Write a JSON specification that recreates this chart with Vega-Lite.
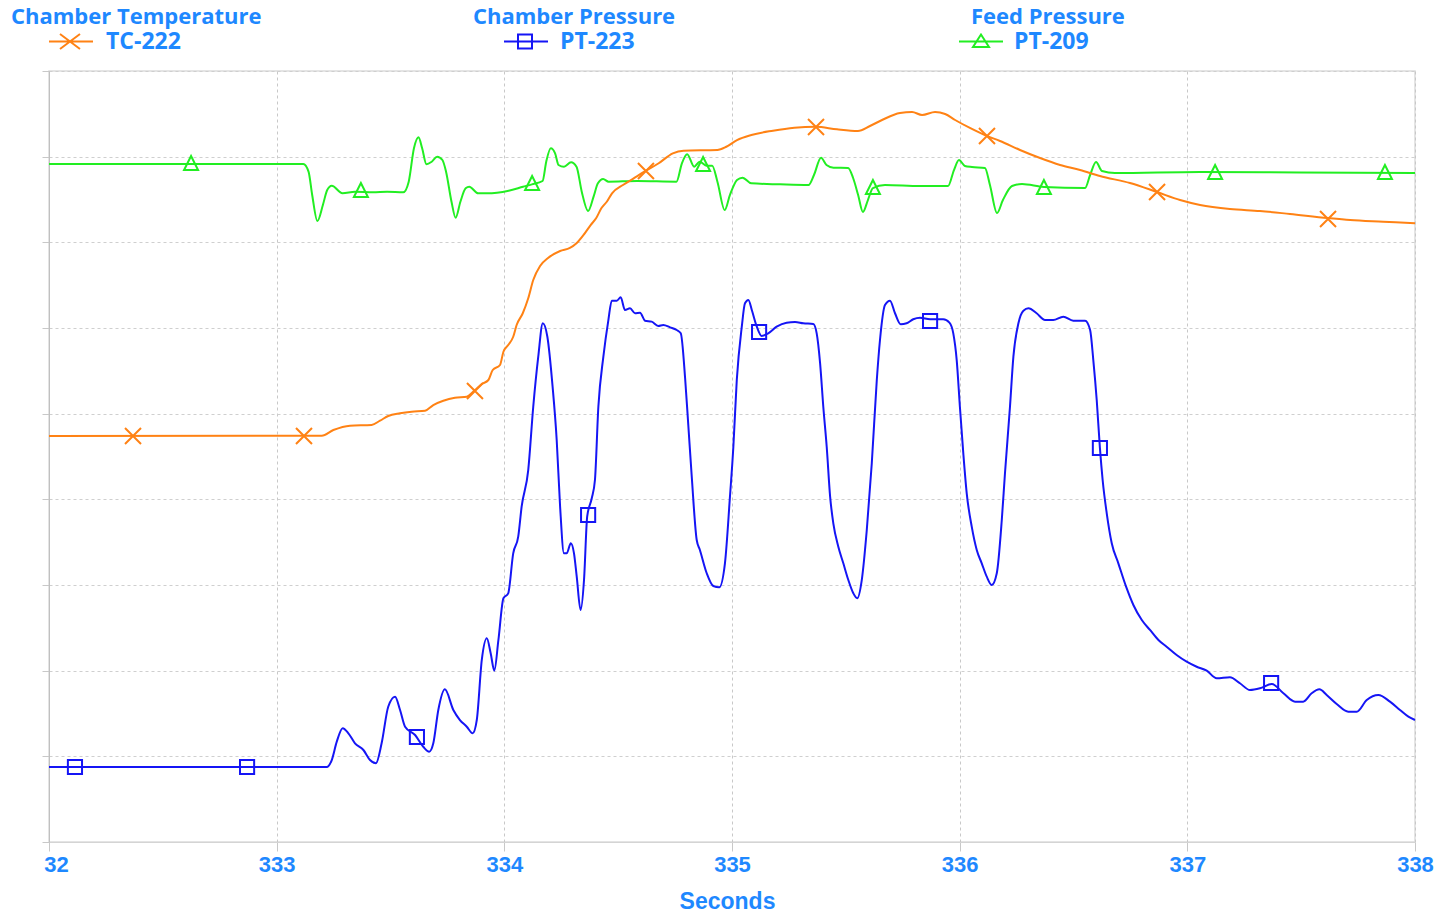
{
"$schema": "https://vega.github.io/schema/vega-lite/v6.json",
"width": 1366, "height": 771,
"autosize": {"type": "none"},
"padding": {"left": 49, "top": 71, "right": 28, "bottom": 70},
"background": "white",
"datasets": {
"lines": [
{"s":"PT-209","t":332.000,"v":7.914},{"s":"PT-209","t":333.117,"v":7.914},{"s":"PT-209","t":333.140,"v":7.825},{"s":"PT-209","t":333.156,"v":7.553},{"s":"PT-209","t":333.179,"v":7.249},{"s":"PT-209","t":333.203,"v":7.436},{"s":"PT-209","t":333.222,"v":7.611},{"s":"PT-209","t":333.242,"v":7.661},{"s":"PT-209","t":333.289,"v":7.572},{"s":"PT-209","t":333.344,"v":7.591},{"s":"PT-209","t":333.423,"v":7.584},{"s":"PT-209","t":333.485,"v":7.591},{"s":"PT-209","t":333.556,"v":7.584},{"s":"PT-209","t":333.580,"v":7.708},{"s":"PT-209","t":333.603,"v":8.098},{"s":"PT-209","t":333.623,"v":8.226},{"s":"PT-209","t":333.639,"v":8.098},{"s":"PT-209","t":333.658,"v":7.911},{"s":"PT-209","t":333.681,"v":7.941},{"s":"PT-209","t":333.705,"v":8.000},{"s":"PT-209","t":333.728,"v":7.961},{"s":"PT-209","t":333.744,"v":7.825},{"s":"PT-209","t":333.768,"v":7.474},{"s":"PT-209","t":333.786,"v":7.288},{"s":"PT-209","t":333.807,"v":7.474},{"s":"PT-209","t":333.830,"v":7.631},{"s":"PT-209","t":333.846,"v":7.649},{"s":"PT-209","t":333.885,"v":7.572},{"s":"PT-209","t":333.924,"v":7.572},{"s":"PT-209","t":334.019,"v":7.603},{"s":"PT-209","t":334.082,"v":7.649},{"s":"PT-209","t":334.121,"v":7.677},{"s":"PT-209","t":334.168,"v":7.716},{"s":"PT-209","t":334.184,"v":7.941},{"s":"PT-209","t":334.204,"v":8.098},{"s":"PT-209","t":334.223,"v":8.039},{"s":"PT-209","t":334.238,"v":7.903},{"s":"PT-209","t":334.262,"v":7.883},{"s":"PT-209","t":334.293,"v":7.934},{"s":"PT-209","t":334.317,"v":7.883},{"s":"PT-209","t":334.340,"v":7.591},{"s":"PT-209","t":334.368,"v":7.366},{"s":"PT-209","t":334.392,"v":7.533},{"s":"PT-209","t":334.411,"v":7.689},{"s":"PT-209","t":334.434,"v":7.739},{"s":"PT-209","t":334.458,"v":7.708},{"s":"PT-209","t":334.583,"v":7.716},{"s":"PT-209","t":334.756,"v":7.708},{"s":"PT-209","t":334.780,"v":7.923},{"s":"PT-209","t":334.803,"v":8.028},{"s":"PT-209","t":334.834,"v":7.883},{"s":"PT-209","t":334.858,"v":7.941},{"s":"PT-209","t":334.889,"v":7.895},{"s":"PT-209","t":334.913,"v":7.895},{"s":"PT-209","t":334.936,"v":7.708},{"s":"PT-209","t":334.968,"v":7.377},{"s":"PT-209","t":334.991,"v":7.553},{"s":"PT-209","t":335.022,"v":7.728},{"s":"PT-209","t":335.046,"v":7.755},{"s":"PT-209","t":335.085,"v":7.689},{"s":"PT-209","t":335.211,"v":7.677},{"s":"PT-209","t":335.336,"v":7.669},{"s":"PT-209","t":335.360,"v":7.786},{"s":"PT-209","t":335.391,"v":7.988},{"s":"PT-209","t":335.415,"v":7.903},{"s":"PT-209","t":335.446,"v":7.871},{"s":"PT-209","t":335.510,"v":7.868},{"s":"PT-209","t":335.532,"v":7.751},{"s":"PT-209","t":335.554,"v":7.553},{"s":"PT-209","t":335.575,"v":7.354},{"s":"PT-209","t":335.597,"v":7.494},{"s":"PT-209","t":335.619,"v":7.634},{"s":"PT-209","t":335.672,"v":7.669},{"s":"PT-209","t":335.826,"v":7.657},{"s":"PT-209","t":335.949,"v":7.657},{"s":"PT-209","t":335.975,"v":7.844},{"s":"PT-209","t":335.997,"v":7.961},{"s":"PT-209","t":336.023,"v":7.891},{"s":"PT-209","t":336.054,"v":7.879},{"s":"PT-209","t":336.111,"v":7.868},{"s":"PT-209","t":336.133,"v":7.669},{"s":"PT-209","t":336.164,"v":7.342},{"s":"PT-209","t":336.190,"v":7.494},{"s":"PT-209","t":336.230,"v":7.657},{"s":"PT-209","t":336.274,"v":7.681},{"s":"PT-209","t":336.370,"v":7.646},{"s":"PT-209","t":336.551,"v":7.634},{"s":"PT-209","t":336.573,"v":7.786},{"s":"PT-209","t":336.599,"v":7.938},{"s":"PT-209","t":336.625,"v":7.833},{"s":"PT-209","t":336.682,"v":7.809},{"s":"PT-209","t":337.056,"v":7.821},{"s":"PT-209","t":337.495,"v":7.815},{"s":"PT-209","t":338.000,"v":7.809},
{"s":"TC-222","t":332.000,"v":4.739},{"s":"TC-222","t":333.198,"v":4.743},{"s":"TC-222","t":333.249,"v":4.809},{"s":"TC-222","t":333.322,"v":4.860},{"s":"TC-222","t":333.417,"v":4.868},{"s":"TC-222","t":333.454,"v":4.918},{"s":"TC-222","t":333.490,"v":4.973},{"s":"TC-222","t":333.542,"v":5.004},{"s":"TC-222","t":333.593,"v":5.023},{"s":"TC-222","t":333.652,"v":5.035},{"s":"TC-222","t":333.688,"v":5.101},{"s":"TC-222","t":333.732,"v":5.151},{"s":"TC-222","t":333.783,"v":5.186},{"s":"TC-222","t":333.835,"v":5.198},{"s":"TC-222","t":333.871,"v":5.276},{"s":"TC-222","t":333.901,"v":5.346},{"s":"TC-222","t":333.930,"v":5.393},{"s":"TC-222","t":333.949,"v":5.510},{"s":"TC-222","t":333.981,"v":5.568},{"s":"TC-222","t":333.996,"v":5.723},{"s":"TC-222","t":334.017,"v":5.801},{"s":"TC-222","t":334.039,"v":5.898},{"s":"TC-222","t":334.054,"v":6.035},{"s":"TC-222","t":334.081,"v":6.172},{"s":"TC-222","t":334.105,"v":6.347},{"s":"TC-222","t":334.127,"v":6.560},{"s":"TC-222","t":334.157,"v":6.724},{"s":"TC-222","t":334.192,"v":6.817},{"s":"TC-222","t":334.245,"v":6.899},{"s":"TC-222","t":334.288,"v":6.934},{"s":"TC-222","t":334.317,"v":6.989},{"s":"TC-222","t":334.348,"v":7.086},{"s":"TC-222","t":334.379,"v":7.202},{"s":"TC-222","t":334.403,"v":7.281},{"s":"TC-222","t":334.426,"v":7.397},{"s":"TC-222","t":334.450,"v":7.474},{"s":"TC-222","t":334.473,"v":7.572},{"s":"TC-222","t":334.521,"v":7.669},{"s":"TC-222","t":334.568,"v":7.747},{"s":"TC-222","t":334.615,"v":7.825},{"s":"TC-222","t":334.678,"v":7.923},{"s":"TC-222","t":334.740,"v":8.039},{"s":"TC-222","t":334.787,"v":8.070},{"s":"TC-222","t":334.936,"v":8.078},{"s":"TC-222","t":334.975,"v":8.116},{"s":"TC-222","t":335.022,"v":8.194},{"s":"TC-222","t":335.085,"v":8.253},{"s":"TC-222","t":335.180,"v":8.303},{"s":"TC-222","t":335.274,"v":8.338},{"s":"TC-222","t":335.368,"v":8.350},{"s":"TC-222","t":335.461,"v":8.319},{"s":"TC-222","t":335.553,"v":8.300},{"s":"TC-222","t":335.606,"v":8.358},{"s":"TC-222","t":335.659,"v":8.428},{"s":"TC-222","t":335.738,"v":8.510},{"s":"TC-222","t":335.791,"v":8.521},{"s":"TC-222","t":335.835,"v":8.486},{"s":"TC-222","t":335.892,"v":8.521},{"s":"TC-222","t":335.936,"v":8.498},{"s":"TC-222","t":335.980,"v":8.428},{"s":"TC-222","t":336.045,"v":8.335},{"s":"TC-222","t":336.120,"v":8.241},{"s":"TC-222","t":336.177,"v":8.183},{"s":"TC-222","t":336.265,"v":8.078},{"s":"TC-222","t":336.353,"v":7.984},{"s":"TC-222","t":336.441,"v":7.903},{"s":"TC-222","t":336.529,"v":7.844},{"s":"TC-222","t":336.616,"v":7.774},{"s":"TC-222","t":336.748,"v":7.692},{"s":"TC-222","t":336.867,"v":7.587},{"s":"TC-222","t":336.968,"v":7.494},{"s":"TC-222","t":337.056,"v":7.436},{"s":"TC-222","t":337.187,"v":7.389},{"s":"TC-222","t":337.319,"v":7.366},{"s":"TC-222","t":337.451,"v":7.331},{"s":"TC-222","t":337.618,"v":7.284},{"s":"TC-222","t":337.715,"v":7.261},{"s":"TC-222","t":337.860,"v":7.241},{"s":"TC-222","t":338.000,"v":7.222},
{"s":"PT-223","t":332.000,"v":0.875},{"s":"PT-223","t":333.220,"v":0.875},{"s":"PT-223","t":333.242,"v":0.957},{"s":"PT-223","t":333.264,"v":1.171},{"s":"PT-223","t":333.290,"v":1.327},{"s":"PT-223","t":333.315,"v":1.269},{"s":"PT-223","t":333.344,"v":1.152},{"s":"PT-223","t":333.381,"v":1.074},{"s":"PT-223","t":333.410,"v":0.957},{"s":"PT-223","t":333.436,"v":0.919},{"s":"PT-223","t":333.461,"v":1.152},{"s":"PT-223","t":333.490,"v":1.579},{"s":"PT-223","t":333.520,"v":1.696},{"s":"PT-223","t":333.542,"v":1.541},{"s":"PT-223","t":333.564,"v":1.346},{"s":"PT-223","t":333.608,"v":1.249},{"s":"PT-223","t":333.644,"v":1.112},{"s":"PT-223","t":333.670,"v":1.054},{"s":"PT-223","t":333.688,"v":1.152},{"s":"PT-223","t":333.710,"v":1.541},{"s":"PT-223","t":333.739,"v":1.782},{"s":"PT-223","t":333.776,"v":1.541},{"s":"PT-223","t":333.805,"v":1.424},{"s":"PT-223","t":333.835,"v":1.346},{"s":"PT-223","t":333.861,"v":1.269},{"s":"PT-223","t":333.879,"v":1.424},{"s":"PT-223","t":333.901,"v":2.125},{"s":"PT-223","t":333.923,"v":2.378},{"s":"PT-223","t":333.940,"v":2.203},{"s":"PT-223","t":333.956,"v":2.000},{"s":"PT-223","t":333.974,"v":2.358},{"s":"PT-223","t":333.996,"v":2.845},{"s":"PT-223","t":334.017,"v":2.903},{"s":"PT-223","t":334.039,"v":3.370},{"s":"PT-223","t":334.061,"v":3.564},{"s":"PT-223","t":334.076,"v":3.914},{"s":"PT-223","t":334.105,"v":4.342},{"s":"PT-223","t":334.127,"v":5.081},{"s":"PT-223","t":334.149,"v":5.665},{"s":"PT-223","t":334.169,"v":6.055},{"s":"PT-223","t":334.189,"v":5.898},{"s":"PT-223","t":334.212,"v":5.315},{"s":"PT-223","t":334.230,"v":4.693},{"s":"PT-223","t":334.245,"v":3.914},{"s":"PT-223","t":334.262,"v":3.370},{"s":"PT-223","t":334.274,"v":3.370},{"s":"PT-223","t":334.292,"v":3.487},{"s":"PT-223","t":334.306,"v":3.370},{"s":"PT-223","t":334.318,"v":3.097},{"s":"PT-223","t":334.335,"v":2.708},{"s":"PT-223","t":334.350,"v":3.058},{"s":"PT-223","t":334.364,"v":3.800},{"s":"PT-223","t":334.384,"v":4.012},{"s":"PT-223","t":334.398,"v":4.226},{"s":"PT-223","t":334.413,"v":5.081},{"s":"PT-223","t":334.435,"v":5.665},{"s":"PT-223","t":334.457,"v":6.093},{"s":"PT-223","t":334.472,"v":6.319},{"s":"PT-223","t":334.494,"v":6.319},{"s":"PT-223","t":334.511,"v":6.358},{"s":"PT-223","t":334.530,"v":6.210},{"s":"PT-223","t":334.552,"v":6.230},{"s":"PT-223","t":334.574,"v":6.172},{"s":"PT-223","t":334.596,"v":6.179},{"s":"PT-223","t":334.618,"v":6.085},{"s":"PT-223","t":334.647,"v":6.074},{"s":"PT-223","t":334.676,"v":6.023},{"s":"PT-223","t":334.698,"v":6.035},{"s":"PT-223","t":334.728,"v":6.008},{"s":"PT-223","t":334.757,"v":5.977},{"s":"PT-223","t":334.775,"v":5.938},{"s":"PT-223","t":334.794,"v":5.416},{"s":"PT-223","t":334.808,"v":4.868},{"s":"PT-223","t":334.823,"v":4.272},{"s":"PT-223","t":334.845,"v":3.525},{"s":"PT-223","t":334.859,"v":3.409},{"s":"PT-223","t":334.889,"v":3.137},{"s":"PT-223","t":334.918,"v":2.988},{"s":"PT-223","t":334.944,"v":2.973},{"s":"PT-223","t":334.969,"v":3.253},{"s":"PT-223","t":334.991,"v":4.031},{"s":"PT-223","t":335.006,"v":4.614},{"s":"PT-223","t":335.021,"v":5.393},{"s":"PT-223","t":335.043,"v":6.015},{"s":"PT-223","t":335.057,"v":6.288},{"s":"PT-223","t":335.072,"v":6.327},{"s":"PT-223","t":335.087,"v":6.210},{"s":"PT-223","t":335.109,"v":6.015},{"s":"PT-223","t":335.130,"v":5.907},{"s":"PT-223","t":335.159,"v":5.938},{"s":"PT-223","t":335.196,"v":6.015},{"s":"PT-223","t":335.240,"v":6.062},{"s":"PT-223","t":335.277,"v":6.070},{"s":"PT-223","t":335.313,"v":6.055},{"s":"PT-223","t":335.357,"v":6.047},{"s":"PT-223","t":335.372,"v":5.938},{"s":"PT-223","t":335.387,"v":5.588},{"s":"PT-223","t":335.401,"v":5.081},{"s":"PT-223","t":335.416,"v":4.614},{"s":"PT-223","t":335.431,"v":4.031},{"s":"PT-223","t":335.445,"v":3.720},{"s":"PT-223","t":335.467,"v":3.447},{"s":"PT-223","t":335.489,"v":3.253},{"s":"PT-223","t":335.511,"v":3.058},{"s":"PT-223","t":335.533,"v":2.903},{"s":"PT-223","t":335.550,"v":2.845},{"s":"PT-223","t":335.570,"v":3.058},{"s":"PT-223","t":335.592,"v":3.642},{"s":"PT-223","t":335.614,"v":4.421},{"s":"PT-223","t":335.636,"v":5.393},{"s":"PT-223","t":335.650,"v":5.860},{"s":"PT-223","t":335.672,"v":6.268},{"s":"PT-223","t":335.694,"v":6.319},{"s":"PT-223","t":335.716,"v":6.172},{"s":"PT-223","t":335.741,"v":6.043},{"s":"PT-223","t":335.767,"v":6.055},{"s":"PT-223","t":335.796,"v":6.102},{"s":"PT-223","t":335.826,"v":6.120},{"s":"PT-223","t":335.870,"v":6.102},{"s":"PT-223","t":335.928,"v":6.102},{"s":"PT-223","t":335.955,"v":6.062},{"s":"PT-223","t":335.972,"v":5.938},{"s":"PT-223","t":335.987,"v":5.626},{"s":"PT-223","t":336.001,"v":5.081},{"s":"PT-223","t":336.016,"v":4.537},{"s":"PT-223","t":336.031,"v":4.070},{"s":"PT-223","t":336.053,"v":3.681},{"s":"PT-223","t":336.075,"v":3.409},{"s":"PT-223","t":336.097,"v":3.253},{"s":"PT-223","t":336.119,"v":3.097},{"s":"PT-223","t":336.141,"v":3.000},{"s":"PT-223","t":336.163,"v":3.137},{"s":"PT-223","t":336.185,"v":3.759},{"s":"PT-223","t":336.199,"v":4.304},{"s":"PT-223","t":336.221,"v":5.081},{"s":"PT-223","t":336.236,"v":5.665},{"s":"PT-223","t":336.258,"v":6.055},{"s":"PT-223","t":336.280,"v":6.202},{"s":"PT-223","t":336.302,"v":6.230},{"s":"PT-223","t":336.338,"v":6.172},{"s":"PT-223","t":336.375,"v":6.093},{"s":"PT-223","t":336.411,"v":6.093},{"s":"PT-223","t":336.455,"v":6.132},{"s":"PT-223","t":336.499,"v":6.085},{"s":"PT-223","t":336.551,"v":6.085},{"s":"PT-223","t":336.573,"v":5.977},{"s":"PT-223","t":336.587,"v":5.626},{"s":"PT-223","t":336.602,"v":5.159},{"s":"PT-223","t":336.616,"v":4.600},{"s":"PT-223","t":336.628,"v":4.226},{"s":"PT-223","t":336.646,"v":3.837},{"s":"PT-223","t":336.668,"v":3.487},{"s":"PT-223","t":336.697,"v":3.253},{"s":"PT-223","t":336.731,"v":2.980},{"s":"PT-223","t":336.763,"v":2.767},{"s":"PT-223","t":336.800,"v":2.591},{"s":"PT-223","t":336.836,"v":2.475},{"s":"PT-223","t":336.873,"v":2.358},{"s":"PT-223","t":336.909,"v":2.280},{"s":"PT-223","t":336.953,"v":2.183},{"s":"PT-223","t":336.997,"v":2.105},{"s":"PT-223","t":337.041,"v":2.046},{"s":"PT-223","t":337.085,"v":2.000},{"s":"PT-223","t":337.129,"v":1.911},{"s":"PT-223","t":337.187,"v":1.923},{"s":"PT-223","t":337.231,"v":1.853},{"s":"PT-223","t":337.275,"v":1.774},{"s":"PT-223","t":337.319,"v":1.794},{"s":"PT-223","t":337.371,"v":1.844},{"s":"PT-223","t":337.422,"v":1.736},{"s":"PT-223","t":337.473,"v":1.638},{"s":"PT-223","t":337.509,"v":1.638},{"s":"PT-223","t":337.546,"v":1.736},{"s":"PT-223","t":337.580,"v":1.782},{"s":"PT-223","t":337.612,"v":1.716},{"s":"PT-223","t":337.656,"v":1.611},{"s":"PT-223","t":337.707,"v":1.521},{"s":"PT-223","t":337.744,"v":1.521},{"s":"PT-223","t":337.788,"v":1.658},{"s":"PT-223","t":337.839,"v":1.716},{"s":"PT-223","t":337.890,"v":1.638},{"s":"PT-223","t":337.934,"v":1.541},{"s":"PT-223","t":337.971,"v":1.463},{"s":"PT-223","t":338.000,"v":1.424}
],
"marks": [
{"s":"PT-209","t":332.624,"v":7.926},{"s":"PT-209","t":333.370,"v":7.611},{"s":"PT-209","t":334.122,"v":7.693},{"s":"PT-209","t":334.873,"v":7.914},{"s":"PT-209","t":335.619,"v":7.646},{"s":"PT-209","t":336.370,"v":7.646},{"s":"PT-209","t":337.122,"v":7.821},{"s":"PT-209","t":337.868,"v":7.821},
{"s":"TC-222","t":332.369,"v":4.739},{"s":"TC-222","t":333.120,"v":4.739},{"s":"TC-222","t":333.871,"v":5.265},{"s":"TC-222","t":334.622,"v":7.833},{"s":"TC-222","t":335.369,"v":8.346},{"s":"TC-222","t":336.120,"v":8.241},{"s":"TC-222","t":336.867,"v":7.587},{"s":"TC-222","t":337.618,"v":7.272},
{"s":"PT-223","t":332.114,"v":0.875},{"s":"PT-223","t":332.870,"v":0.875},{"s":"PT-223","t":333.616,"v":1.226},{"s":"PT-223","t":334.368,"v":3.817},{"s":"PT-223","t":335.119,"v":5.953},{"s":"PT-223","t":335.870,"v":6.082},{"s":"PT-223","t":336.616,"v":4.599},{"s":"PT-223","t":337.368,"v":1.856}
]
},
"config": {
"view": {"stroke": "#dcdcdc", "strokeWidth": 1.5},
"legend": {"titleFont": "Open Sans", "titleFontSize": 22, "titleFontWeight": "bold", "titleColor": "#1e88ff", "labelFont": "Open Sans", "labelFontSize": 23, "labelFontWeight": "bold", "labelColor": "#1e88ff", "padding": 0, "titlePadding": 1, "rowPadding": 0, "symbolStrokeWidth": 2, "symbolSize": 4, "symbolFillColor": "transparent", "labelLimit": 300, "titleLimit": 400}
},
"encoding": {
"x": {"field": "t", "type": "quantitative", "scale": {"domain": [332, 338], "nice": false, "zero": false},
 "axis": {"title": "Seconds", "titleX": 678, "values": [332, 333, 334, 335, 336, 337, 338], "format": "d", "labelExpr": "datum.value == 332 ? '32' : datum.label", "labelFlush": false, "labelOffset": {"condition": {"test": "datum.value == 332", "value": 7}, "value": 0}, "grid": true, "gridDash": [3, 3], "gridColor": "#c8c8c8", "domainColor": "#d4d4d4", "tickColor": "#c8c8c8", "tickSize": 9, "labelFont": "Liberation Sans", "labelFontSize": 22, "labelFontWeight": "bold", "labelColor": "#1e88ff", "labelPadding": 3, "titleFont": "Liberation Sans", "titleFontSize": 23, "titleFontWeight": "bold", "titleColor": "#1e88ff", "titlePadding": 15}},
"y": {"field": "v", "type": "quantitative", "scale": {"domain": [0, 9], "nice": false, "zero": false},
 "axis": {"title": null, "labels": false, "values": [0, 1, 2, 3, 4, 5, 6, 7, 8, 9], "grid": true, "gridDash": [3, 3], "gridColor": "#cfcfcf", "tickSize": 7, "tickColor": "#c8c8c8", "domainColor": "#c0c0c0"}}
},
"layer": [
{"data": {"name": "lines"}, "transform": [{"filter": "datum.s == 'PT-209'"}], "mark": {"type": "line", "strokeWidth": 2, "interpolate": "monotone"},
 "encoding": {"color": {"field": "s", "type": "nominal", "scale": {"domain": ["PT-209"], "range": ["#22ee22"]}, "legend": {"title": "Feed Pressure", "orient": "none", "legendX": 922, "legendY": -64, "symbolType": "M-23.5,0H20.5M-1.5,-7L-9.5,5.5H6.5Z", "labelOffset": 20}}}},
{"data": {"name": "lines"}, "transform": [{"filter": "datum.s == 'TC-222'"}], "mark": {"type": "line", "strokeWidth": 2, "interpolate": "monotone"},
 "encoding": {"color": {"field": "s", "type": "nominal", "scale": {"domain": ["TC-222"], "range": ["#ff8214"]}, "legend": {"title": "Chamber Temperature", "orient": "none", "legendX": -38, "legendY": -64, "symbolType": "M26.5,0H70.5M37.5,-7.5L57.5,7.5M37.5,7.5L57.5,-7.5", "labelOffset": 72}}}},
{"data": {"name": "lines"}, "transform": [{"filter": "datum.s == 'PT-223'"}], "mark": {"type": "line", "strokeWidth": 2, "interpolate": "monotone"},
 "encoding": {"color": {"field": "s", "type": "nominal", "scale": {"domain": ["PT-223"], "range": ["#1515f5"]}, "legend": {"title": "Chamber Pressure", "orient": "none", "legendX": 424, "legendY": -64, "symbolType": "M19.5,0H63.5M33.5,-7H47.5V7H33.5Z", "labelOffset": 64}}}},
{"data": {"name": "marks"}, "transform": [{"filter": "datum.s == 'PT-209'"}], "mark": {"type": "point", "shape": "M0,-1L-1,1H1Z", "size": 196, "filled": false, "strokeWidth": 2, "color": "#22ee22", "opacity": 1}},
{"data": {"name": "marks"}, "transform": [{"filter": "datum.s == 'TC-222'"}], "mark": {"type": "point", "shape": "M-1,-1L1,1M-1,1L1,-1", "size": 256, "filled": false, "strokeWidth": 2, "color": "#ff8214", "opacity": 1}},
{"data": {"name": "marks"}, "transform": [{"filter": "datum.s == 'PT-223'"}], "mark": {"type": "point", "shape": "square", "size": 200, "filled": false, "strokeWidth": 2, "color": "#1515f5", "opacity": 1}}
],
"resolve": {"scale": {"color": "independent"}, "legend": {"color": "independent"}}
}
